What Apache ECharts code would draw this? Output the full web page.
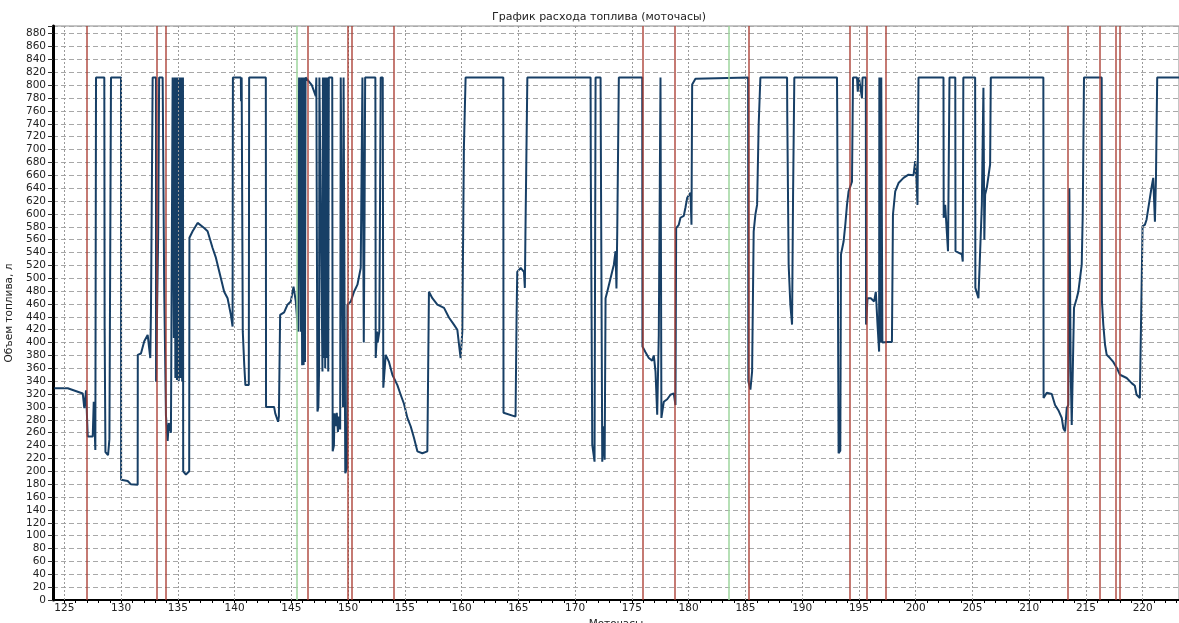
<!DOCTYPE html>
<html>
<head>
<meta charset="utf-8">
<style>
html, body { margin: 0; padding: 0; background: #fff; }
#chart { width: 1179px; height: 623px; }
</style>
<script src="https://cdn.jsdelivr.net/npm/echarts@6/dist/echarts.min.js"></script>
</head>
<body>
<div id="chart"></div>
<script type="text/javascript">
// fuel level trace: [engine hours, litres]
var fuelPoints = [
  [124.12,329],[125.30,329],[126.62,321],[126.76,298],[126.91,326],[127.06,254],[127.50,254],[127.59,308],[127.73,233],
  [127.79,812],[128.52,812],[128.55,423],[128.62,230],[128.85,225],[128.97,250],[129.11,812],[129.99,812],[130.0,187],
  [130.58,185],[130.85,180],[131.46,179],[131.47,381],[131.75,383],[132.04,402],[132.34,412],[132.57,376],[132.63,448],
  [132.78,812],[133.07,812],[133.08,339],[133.27,573],[133.35,812],[133.66,812],[133.80,479],[133.95,287],[134.10,247],
  [134.2,275],[134.39,260],[134.54,812],[134.62,812],[134.65,407],[134.72,812],[134.78,345],[134.85,812],[134.92,342],
  [135.0,812],[135.08,340],[135.15,812],[135.22,345],[135.3,812],[135.38,340],[135.45,812],[135.47,200],[135.71,195],
  [136.0,200],[136.02,563],[136.30,573],[136.74,586],[137.32,578],[137.62,573],[138.06,547],[138.35,532],[138.79,500],
  [139.08,479],[139.38,469],[139.67,443],[139.82,425],[139.85,812],[140.55,812],[140.57,775],[140.62,812],[140.70,812],
  [140.72,417],[140.85,365],[140.95,334],[141.25,334],[141.28,812],[142.75,812],[142.77,300],[143.48,300],[143.58,290],
  [143.83,277],[143.9,285],[144.01,443],[144.36,447],[144.66,459],[144.95,464],[145.19,487],[145.39,464],[145.59,417],
  [145.68,812],[145.80,812],[145.82,417],[145.86,812],[145.95,365],[146.0,812],[146.08,365],[146.12,812],[146.2,370],
  [146.25,812],[146.42,812],[146.8,800],[147.15,783],[147.2,812],[147.28,812],[147.30,293],[147.38,300],[147.44,355],
  [147.47,812],[147.6,812],[147.74,355],[147.78,812],[147.85,376],[147.9,812],[147.98,360],[148.02,812],[148.1,376],
  [148.15,812],[148.25,355],[148.3,812],[148.6,812],[148.64,231],[148.75,240],[148.8,290],[148.9,270],[149.0,291],
  [149.1,261],[149.2,285],[149.3,265],[149.35,812],[149.5,812],[149.55,300],[149.6,812],[149.7,812],[149.75,197],
  [149.9,205],[149.94,459],[150.24,464],[150.52,479],[150.82,490],[151.11,516],[151.26,812],[151.35,812],[151.38,400],
  [151.45,600],[151.5,812],[152.4,812],[152.43,376],[152.55,417],[152.6,400],[152.75,417],[152.87,812],[153.05,812],
  [153.1,330],[153.31,381],[153.6,370],[153.9,350],[154.34,334],[154.63,319],[154.92,305],[155.22,283],[155.51,270],
  [155.80,252],[156.10,231],[156.54,228],[156.98,231],[157.12,479],[157.42,469],[157.86,459],[158.45,454],[158.88,439],
  [159.32,428],[159.62,420],[159.77,397],[159.91,376],[160.06,417],[160.2,703],[160.35,812],[163.67,812],[163.69,291],
  [164.75,285],[164.84,439],[164.9,510],[165.2,516],[165.49,510],[165.57,485],[165.62,568],[165.79,812],[171.36,812],
  [171.38,666],[171.51,241],[171.71,215],[171.80,812],[172.24,812],[172.26,723],[172.39,215],[172.53,270],[172.6,218],
  [172.68,469],[172.83,479],[173.12,500],[173.41,521],[173.56,542],[173.64,484],[173.71,573],[173.85,812],[175.91,812],
  [175.93,394],[176.2,385],[176.49,376],[176.79,372],[176.93,380],[177.08,355],[177.23,288],[177.37,412],[177.46,650],
  [177.52,812],[177.60,283],[177.81,308],[178.11,312],[178.40,319],[178.69,321],[178.84,303],[178.9,578],[179.13,583],
  [179.28,594],[179.57,597],[179.72,610],[179.87,625],[180.16,633],[180.25,583],[180.31,801],[180.6,810],[180.75,812],
  [185.24,812],[185.26,340],[185.44,327],[185.59,355],[185.73,573],[185.88,599],[186.03,614],[186.17,739],[186.32,812],
  [188.67,812],[188.69,750],[188.81,521],[188.96,459],[189.11,428],[189.2,630],[189.31,812],[193.07,812],[193.09,752],
  [193.21,228],[193.36,232],[193.42,537],[193.65,557],[193.80,583],[193.95,614],[194.09,635],[194.39,650],[194.48,812],
  [194.83,812],[194.9,790],[195.0,812],[195.27,780],[195.32,812],[195.61,812],[195.63,428],[195.76,469],[196.05,469],
  [196.34,464],[196.49,479],[196.64,428],[196.78,386],[196.8,812],[196.9,812],[196.93,400],[196.97,812],[197.05,812],
  [197.07,400],[197.5,401],[197.91,401],[198.0,599],[198.2,635],[198.49,648],[198.93,656],[199.37,661],[199.81,660],
  [199.96,682],[200.11,640],[200.16,614],[200.25,812],[202.45,812],[202.47,594],[202.6,614],[202.85,542],[202.98,812],
  [203.49,812],[203.51,542],[204.07,537],[204.15,526],[204.2,812],[205.24,812],[205.26,485],[205.53,469],[205.68,467],
  [205.83,614],[205.97,796],[206.05,560],[206.12,630],[206.27,641],[206.56,677],[206.62,812],[211.25,812],[211.27,314],
  [211.55,322],[211.99,320],[212.28,303],[212.57,295],[212.87,283],[213.01,267],[213.16,262],[213.31,298],[213.45,303],
  [213.54,640],[213.66,355],[213.75,272],[213.89,270],[213.95,454],[214.19,469],[214.33,479],[214.48,500],[214.63,521],
  [214.72,599],[214.83,812],[216.39,812],[216.41,464],[216.53,428],[216.68,397],[216.83,381],[217.12,376],[217.41,370],
  [217.71,361],[218.0,350],[218.59,345],[219.03,337],[219.31,333],[219.46,319],[219.75,314],[219.99,581],[220.19,583],
  [220.34,591],[220.48,607],[220.78,641],[220.93,656],[221.08,588],[221.17,656],[221.28,812],[223.2,812]
];

// event markers (engine hours)
var redEvents = [126.94, 133.10, 133.92, 146.47, 149.94, 150.32, 154.02, 175.96, 178.78, 185.29,
                 194.18, 195.71, 197.35, 213.43, 216.18, 217.59, 218.01];
var greenEvents = [145.46, 183.56];

// labelled ticks
var xTicks = [125, 130, 135, 140, 145, 150, 155, 160, 165, 170, 175, 180, 185, 190, 195, 200, 205, 210, 215, 220];
var yStep = 20;
var yTop = 880;

var chartTitle = 'График расхода топлива (моточасы)';
var xName = 'Моточасы';
var yName = 'Объем топлива, л';

var font = 'DejaVu Sans';
var myChart = echarts.init(document.getElementById('chart'), null, { renderer: 'canvas' });

function vLines(list) {
  var out = [];
  for (var i = 0; i < list.length; i++) out.push({ xAxis: list[i] });
  return out;
}

var option = {
  animation: false,
  backgroundColor: '#fff',
  title: {
    text: chartTitle,
    left: 487,
    top: 7,
    textStyle: { fontFamily: font, fontSize: 11, fontWeight: 'normal', color: '#222' }
  },
  grid: {
    left: 53, right: 0, top: 26, bottom: 23,
    containLabel: false,
    outerBoundsMode: 'none',
    show: true,
    borderColor: '#8a8a8a',
    borderWidth: 1
  },
  xAxis: {
    type: 'value',
    min: 124,
    max: 223.2,
    interval: 1,
    name: xName,
    nameLocation: 'middle',
    nameGap: 12,
    nameTextStyle: { fontFamily: font, fontSize: 10.5, color: '#222' },
    axisLine: { show: true, onZero: false, lineStyle: { color: '#000', width: 2 } },
    axisTick: { show: true, length: 3, lineStyle: { color: '#000' } },
    axisLabel: {
      margin: 3,
      fontFamily: font, fontSize: 10.5, color: '#222',
      showMinLabel: false, showMaxLabel: false,
      formatter: function (v) { return (xTicks.indexOf(Math.round(v * 100) / 100) >= 0) ? String(v) : ''; }
    },
    splitLine: { show: false }
  },
  yAxis: {
    type: 'value',
    min: 0,
    max: 892,
    interval: yStep,
    name: yName,
    nameLocation: 'middle',
    nameGap: 37,
    nameTextStyle: { fontFamily: font, fontSize: 10.5, color: '#222' },
    axisLine: { show: true, onZero: false, lineStyle: { color: '#000', width: 3 } },
    axisTick: { show: true, length: 5, lineStyle: { color: '#333' } },
    axisLabel: {
      margin: 7,
      fontFamily: font, fontSize: 10.5, color: '#222',
      formatter: function (v) { return (v % yStep === 0 && v <= yTop) ? String(v) : ''; }
    },
    splitLine: { show: true, lineStyle: { color: '#a8a8a8', type: [5, 3], width: 1 } }
  },
  series: [
    {
      name: 'grid',
      type: 'line',
      data: [],
      z: 1,
      silent: true,
      markLine: {
        silent: true,
        symbol: ['none', 'none'],
        label: { show: false },
        lineStyle: { color: '#9a9a9a', type: [2, 2], width: 1 },
        data: vLines(xTicks),
        animation: false
      }
    },
    {
      name: 'green',
      type: 'line',
      data: [],
      z: 2,
      silent: true,
      markLine: {
        silent: true,
        symbol: ['none', 'none'],
        label: { show: false },
        lineStyle: { color: '#9ed69e', type: 'solid', width: 1.5 },
        data: vLines(greenEvents),
        animation: false
      }
    },
    {
      name: 'fuel',
      type: 'line',
      data: fuelPoints,
      z: 3,
      showSymbol: false,
      symbol: 'none',
      lineStyle: { color: '#173f66', width: 2 },
      itemStyle: { color: '#173f66' }
    },
    {
      name: 'red',
      type: 'line',
      data: [],
      z: 4,
      silent: true,
      markLine: {
        silent: true,
        symbol: ['none', 'none'],
        label: { show: false },
        lineStyle: { color: '#a83a30', type: 'solid', width: 1.5, opacity: 0.9 },
        data: vLines(redEvents),
        animation: false
      }
    }
  ]
};

myChart.setOption(option, true);
</script>
</body>
</html>
